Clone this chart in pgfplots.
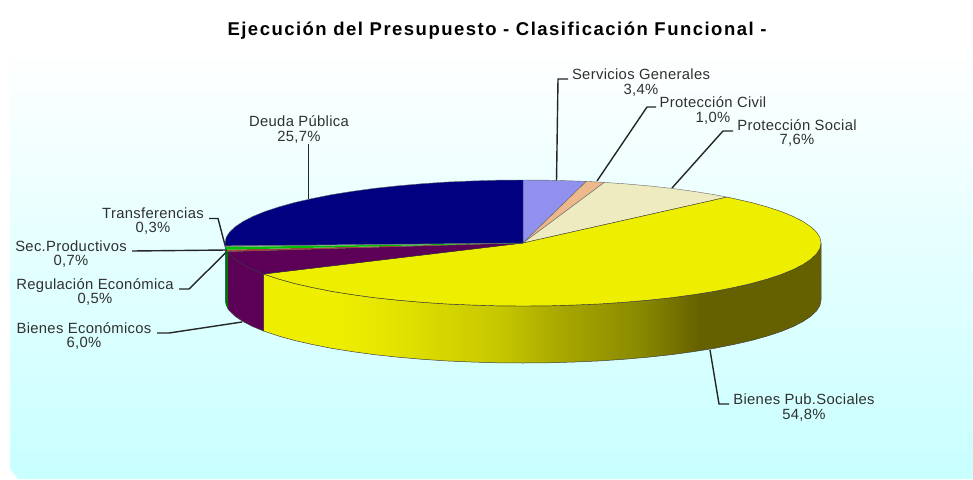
\documentclass[border=0pt]{standalone}
\usepackage{fontspec}
\setmainfont{Liberation Sans}
\newfontfamily\titlefont[LetterSpace=8]{Liberation Sans Bold}
\newfontfamily\labfont[LetterSpace=2.2]{Liberation Sans}
\usepackage{pgfplots}
\pgfplotsset{compat=1.18}
\definecolor{cNavy}{HTML}{000080}
\definecolor{cPeri}{HTML}{9090EE}
\definecolor{cPeach}{HTML}{EEB98A}
\definecolor{cCream}{HTML}{EEEBC0}
\definecolor{cYellow}{HTML}{EEEE00}
\definecolor{cPurple}{HTML}{5C0058}
\definecolor{cGreen}{HTML}{00C000}
\definecolor{cReg}{HTML}{A04040}
\definecolor{cTrans}{HTML}{70A070}
\definecolor{cBottom}{HTML}{C8FFFF}
\definecolor{cText}{HTML}{303030}
\pgfdeclarehorizontalshading{yside}{100bp}{%
rgb(0bp)=(.933,.933,0);rgb(31.8bp)=(.933,.933,0);rgb(37.2bp)=(.885,.885,0);rgb(46.1bp)=(.78,.78,0);rgb(51.5bp)=(.66,.66,0);rgb(58.7bp)=(.54,.54,0);rgb(64.1bp)=(.40,.38,0);rgb(100bp)=(.40,.38,0)}
\tikzset{lab/.style={inner sep=0pt,font=\fontsize{14.8}{14.6}\labfont,text=cText,align=center}}
\begin{document}
\begin{tikzpicture}
\useasboundingbox (0,0) rectangle (973pt,479pt);
\begin{axis}[at={(0pt,0pt)},anchor=south west,x=1pt,y=-1pt,xmin=0,xmax=973,ymin=0,ymax=479,hide axis,clip=true,enlargelimits=false]
% background
\addplot[draw=none,top color=white,bottom color=cBottom] coordinates {(10,48)(973,48)(973,479)(18,479)(10,469)} --cycle;
% leader lines
\pgfplotsset{leader/.style={draw=black!85,line width=1.4pt}}
\addplot[leader] coordinates {(556.5,181)(558,79)(568,79)};
\addplot[leader] coordinates {(597,181)(647,107)(656,107)};
\addplot[leader] coordinates {(672,188)(723,131)(733,131)};
\addplot[leader] coordinates {(710,350)(719,404)(729,404)};
\addplot[leader] coordinates {(308.5,199)(308.5,144)};
\addplot[leader] coordinates {(209,218.5)(218,218.5)(225.5,247)};
\addplot[leader] coordinates {(132,251)(227,250)};
\addplot[leader] coordinates {(179,289)(189,289)(227,251.5)};
\addplot[leader] coordinates {(157,333)(169,333)(242,322)};
% side walls
\pgfplotsset{wall/.style={draw=black!75,line width=.5pt}}
\addplot[wall,shading=yside] coordinates {(821,243)(819.9,248.5)(816.5,253.9)(810.8,259.3)(803,264.5)(793.1,269.6)(781.1,274.5)(767.1,279.1)(751.3,283.5)(733.7,287.5)(714.6,291.3)(693.9,294.6)(672,297.6)(648.9,300.1)(624.9,302.2)(600.1,303.9)(574.7,305)(549,305.8)(523,306)(497,305.8)(471.3,305)(445.9,303.9)(421.1,302.2)(397.1,300.1)(374,297.6)(352.1,294.6)(331.4,291.3)(312.3,287.5)(294.7,283.5)(278.9,279.1)(263.6,274)
(263.6,331)(278.9,336.1)(294.7,340.5)(312.3,344.5)(331.4,348.3)(352.1,351.6)(374,354.6)(397.1,357.1)(421.1,359.2)(445.9,360.9)(471.3,362)(497,362.8)(523,363)(549,362.8)(574.7,362)(600.1,360.9)(624.9,359.2)(648.9,357.1)(672,354.6)(693.9,351.6)(714.6,348.3)(733.7,344.5)(751.3,340.5)(767.1,336.1)(781.1,331.5)(793.1,326.6)(803,321.5)(810.8,316.3)(816.5,310.9)(819.9,305.5)(821,300)} --cycle;
\addplot[wall,fill=cPurple] coordinates {(263.6,274)(252.9,269.6)(243,264.5)(235.2,259.3)(229.5,253.9)(227.8,251.7)(227.8,308.7)(229.5,310.9)(235.2,316.3)(243,321.5)(252.9,326.6)(263.6,331)} --cycle;
\addplot[draw=none,fill=green!45!black] coordinates {(227.8,251.7)(226.1,248.5)(225.3,245.8)(225.3,302.8)(226.1,305.5)(227.8,308.7)} --cycle;
\addplot[draw=none,fill=cNavy] coordinates {(225.3,245.8)(225,243)(225,300)(225.3,302.8)} --cycle;
% top faces
\pgfplotsset{face/.style={draw=black!60,line width=.4pt}}
\addplot[face,fill=cPeri] coordinates {(523,243)(523,180)(549,180.2)(574.7,181)(586.2,181.4)} --cycle;
\addplot[face,fill=cPeach] coordinates {(523,243)(586.2,181.4)(600.1,182.1)(604.3,182.4)} --cycle;
\addplot[face,fill=cCream] coordinates {(523,243)(604.3,182.4)(624.9,183.8)(648.9,185.9)(672,188.4)(693.9,191.4)(714.6,194.7)(727,197.1)} --cycle;
\addplot[face,draw=black!80,fill=cYellow] coordinates {(523,243)(727,197.1)(733.7,198.5)(751.3,202.5)(767.1,206.9)(781.1,211.5)(793.1,216.4)(803,221.5)(810.8,226.7)(816.5,232.1)(819.9,237.5)(821,243)(819.9,248.5)(816.5,253.9)(810.8,259.3)(803,264.5)(793.1,269.6)(781.1,274.5)(767.1,279.1)(751.3,283.5)(733.7,287.5)(714.6,291.3)(693.9,294.6)(672,297.6)(648.9,300.1)(624.9,302.2)(600.1,303.9)(574.7,305)(549,305.8)(523,306)(497,305.8)(471.3,305)(445.9,303.9)(421.1,302.2)(397.1,300.1)(374,297.6)(352.1,294.6)(331.4,291.3)(312.3,287.5)(294.7,283.5)(278.9,279.1)(263.6,274)} --cycle;
\addplot[face,draw=black!80,fill=cPurple] coordinates {(523,243)(263.6,274)(252.9,269.6)(243,264.5)(235.2,259.3)(229.5,253.9)(227.8,251.7)} --cycle;
\addplot[draw=none,fill=cReg] coordinates {(523,243)(227.8,251.7)(226.7,249.7)} --cycle;
\addplot[draw=none,fill=cGreen] coordinates {(523,243)(226.7,249.7)(226.1,248.5)(225.6,247)} --cycle;
\addplot[draw=none,fill=cTrans] coordinates {(523,243)(225.6,247)(225.3,245.8)} --cycle;
\addplot[face,fill=cNavy] coordinates {(523,243)(225.3,245.8)(225,243)(226.1,237.5)(229.5,232.1)(235.2,226.7)(243,221.5)(252.9,216.4)(264.9,211.5)(278.9,206.9)(294.7,202.5)(312.3,198.5)(331.4,194.7)(352.1,191.4)(374,188.4)(397.1,185.9)(421.1,183.8)(445.9,182.1)(471.3,181)(497,180.2)(523,180)} --cycle;
% text
\node[inner sep=0pt,text=black] at (axis cs:497,31) {\fontsize{18.5}{19}\titlefont Ejecución del Presupuesto - Clasificación Funcional -};
\node[lab] at (axis cs:641,82.5) {Servicios Generales\\3,4\%};
\node[lab] at (axis cs:713,110.5) {Protección Civil\\1,0\%};
\node[lab] at (axis cs:797,133) {Protección Social\\7,6\%};
\node[lab] at (axis cs:804,407.5) {Bienes Pub.Sociales\\54,8\%};
\node[lab] at (axis cs:299,129.5) {Deuda Pública\\25,7\%};
\node[lab] at (axis cs:153,221) {Transferencias\\0,3\%};
\node[lab] at (axis cs:71,254) {Sec.Productivos\\0,7\%};
\node[lab] at (axis cs:95,292) {Regulación Económica\\0,5\%};
\node[lab] at (axis cs:84,336) {Bienes Económicos\\6,0\%};
\end{axis}
\end{tikzpicture}
\end{document}
